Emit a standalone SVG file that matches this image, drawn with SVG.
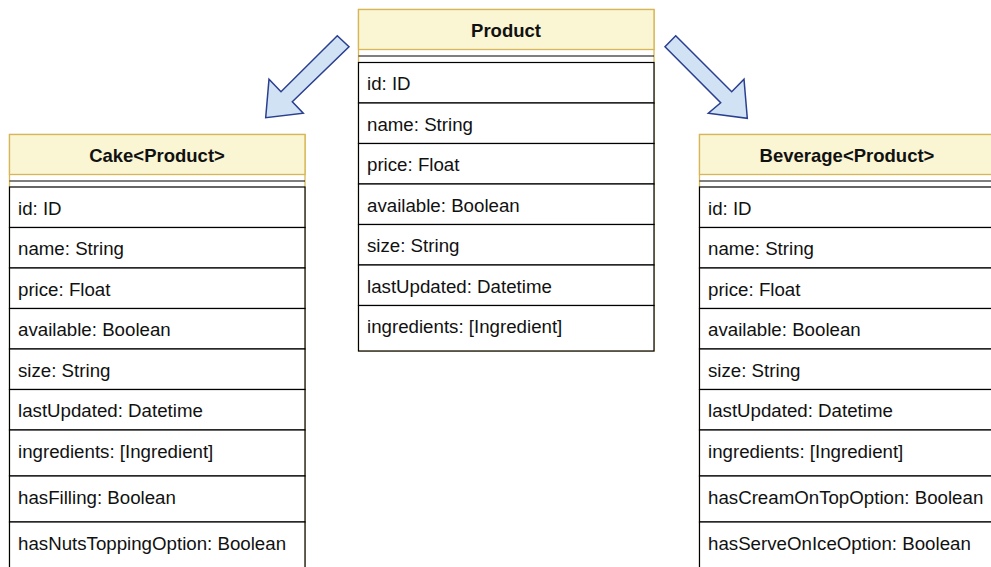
<svg xmlns="http://www.w3.org/2000/svg" width="991" height="567" viewBox="0 0 991 567">
<style>
.frame{fill:#ffffff;stroke:#d6b656;stroke-width:1.3}
.hdr{fill:#faf5d3;stroke:#d6b656;stroke-width:1.3}
.sep{stroke:#000;stroke-width:1.2}
.row{fill:#ffffff;stroke:#000;stroke-width:1.2}
.t{font-family:"Liberation Sans",Arial,sans-serif;font-size:18.7px;fill:#111}
.h{font-family:"Liberation Sans",Arial,sans-serif;font-size:18.5px;font-weight:bold;fill:#111;text-anchor:middle}
.arr{fill:#d0e2f4;stroke:#2a3f8f;stroke-width:1.5;stroke-linejoin:miter}
</style>
<rect width="991" height="567" fill="#ffffff"/>
<g id="connectors">
<polygon class="arr" points="337.3,35.7 349,46.7 292.3,101.7 303.3,113.3 265.7,117.7 269,79.3 281,91.7"/>
<polygon class="arr" points="675.7,35.7 731.7,91.7 744,79.3 747.3,118.3 708.3,113.3 720.7,102.7 665,46.7"/>
</g>
<g id="product">
<rect class="frame" x="358.5" y="9.5" width="295.5" height="341.5"/>
<rect class="hdr" x="358.5" y="9.5" width="295.5" height="40"/>
<text class="h" x="506" y="36.5">Product</text>
<line class="sep" x1="358.5" y1="56" x2="654" y2="56"/>
<rect class="row" x="358.5" y="62.5" width="295.5" height="40.5"/>
<rect class="row" x="358.5" y="103" width="295.5" height="40.5"/>
<rect class="row" x="358.5" y="143.5" width="295.5" height="40.5"/>
<rect class="row" x="358.5" y="184" width="295.5" height="40.5"/>
<rect class="row" x="358.5" y="224.5" width="295.5" height="40.5"/>
<rect class="row" x="358.5" y="265" width="295.5" height="40.5"/>
<rect class="row" x="358.5" y="305.5" width="295.5" height="45.5"/>
<text class="t" x="367" y="90">id: ID</text>
<text class="t" x="367" y="130.5">name: String</text>
<text class="t" x="367" y="171">price: Float</text>
<text class="t" x="367" y="211.5">available: Boolean</text>
<text class="t" x="367" y="252">size: String</text>
<text class="t" x="367" y="292.5">lastUpdated: Datetime</text>
<text class="t" x="367" y="333">ingredients: [Ingredient]</text>
</g>
<g id="cake">
<rect class="frame" x="9.5" y="134.5" width="295.5" height="440"/>
<rect class="hdr" x="9.5" y="134.5" width="295.5" height="40"/>
<text class="h" x="157" y="161.5">Cake&lt;Product&gt;</text>
<line class="sep" x1="9.5" y1="181" x2="305" y2="181"/>
<rect class="row" x="9.5" y="187" width="295.5" height="40.5"/>
<rect class="row" x="9.5" y="227.5" width="295.5" height="40.5"/>
<rect class="row" x="9.5" y="268" width="295.5" height="40.5"/>
<rect class="row" x="9.5" y="308.5" width="295.5" height="40.5"/>
<rect class="row" x="9.5" y="349" width="295.5" height="40.5"/>
<rect class="row" x="9.5" y="389.5" width="295.5" height="40.5"/>
<rect class="row" x="9.5" y="430" width="295.5" height="46"/>
<rect class="row" x="9.5" y="476" width="295.5" height="46"/>
<rect class="row" x="9.5" y="522" width="295.5" height="50"/>
<text class="t" x="18" y="214.5">id: ID</text>
<text class="t" x="18" y="255">name: String</text>
<text class="t" x="18" y="295.5">price: Float</text>
<text class="t" x="18" y="336">available: Boolean</text>
<text class="t" x="18" y="376.5">size: String</text>
<text class="t" x="18" y="417">lastUpdated: Datetime</text>
<text class="t" x="18" y="457.5">ingredients: [Ingredient]</text>
<text class="t" x="18" y="503.5">hasFilling: Boolean</text>
<text class="t" x="18" y="549.5">hasNutsToppingOption: Boolean</text>
</g>
<g id="beverage">
<rect class="frame" x="699.5" y="134.5" width="295.5" height="440"/>
<rect class="hdr" x="699.5" y="134.5" width="295.5" height="40"/>
<text class="h" x="847" y="161.5">Beverage&lt;Product&gt;</text>
<line class="sep" x1="699.5" y1="181" x2="995" y2="181"/>
<rect class="row" x="699.5" y="187" width="295.5" height="40.5"/>
<rect class="row" x="699.5" y="227.5" width="295.5" height="40.5"/>
<rect class="row" x="699.5" y="268" width="295.5" height="40.5"/>
<rect class="row" x="699.5" y="308.5" width="295.5" height="40.5"/>
<rect class="row" x="699.5" y="349" width="295.5" height="40.5"/>
<rect class="row" x="699.5" y="389.5" width="295.5" height="40.5"/>
<rect class="row" x="699.5" y="430" width="295.5" height="46"/>
<rect class="row" x="699.5" y="476" width="295.5" height="46"/>
<rect class="row" x="699.5" y="522" width="295.5" height="50"/>
<text class="t" x="708" y="214.5">id: ID</text>
<text class="t" x="708" y="255">name: String</text>
<text class="t" x="708" y="295.5">price: Float</text>
<text class="t" x="708" y="336">available: Boolean</text>
<text class="t" x="708" y="376.5">size: String</text>
<text class="t" x="708" y="417">lastUpdated: Datetime</text>
<text class="t" x="708" y="457.5">ingredients: [Ingredient]</text>
<text class="t" x="708" y="503.5">hasCreamOnTopOption: Boolean</text>
<text class="t" x="708" y="549.5">hasServeOnIceOption: Boolean</text>
</g>
</svg>
